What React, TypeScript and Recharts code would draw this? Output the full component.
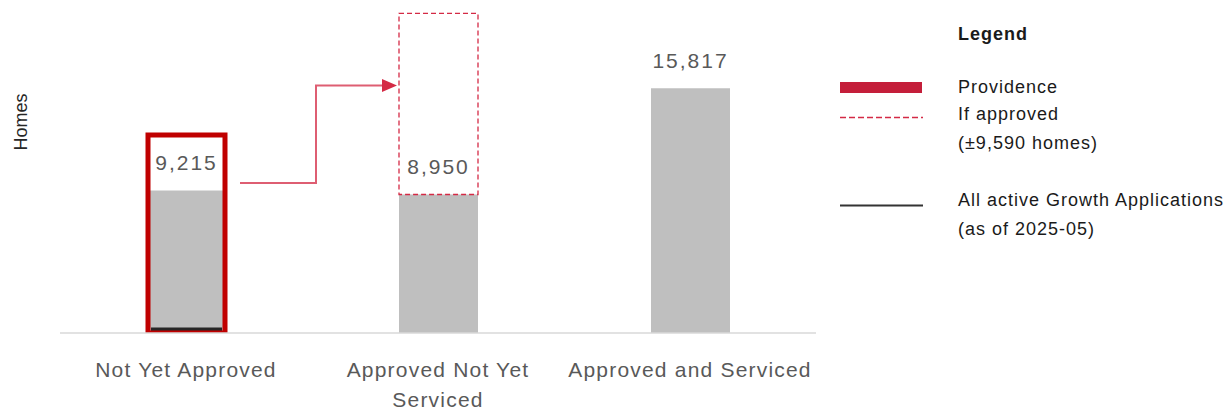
import React from "react";
import { ComposedChart, Bar, XAxis, YAxis, LabelList } from "recharts";

const CATEGORIES = ["Not Yet Approved", "Approved Not Yet Serviced", "Approved and Serviced"];
const ACTIVE = [9215, 8950, 15817];
const IF_APPROVED = [null, 11700, null];
const PROVIDENCE_BOX = [12800, null, null];
const GROWTH_LINE = [350, null, null];
// arrow: from the Providence box (at ~9,700) up to the "if approved" box (at ~16,000)
const ARROW_LEVELS = [9700, 16000];
const Y_MAX = 21000;

const LEGEND_ITEMS = [
  { kind: "bar", lines: ["Providence"] },
  { kind: "dash", lines: ["If approved", "(\u00b19,590 homes)"] },
  { kind: "line", lines: ["All active Growth Applications", "(as of 2025-05)"] },
];

const W = 1229;
const H = 412;
const M = { top: 8, right: 413, bottom: 0, left: 0 };
const Y_W = 60;
const X_H = 79;
const PLOT_L = M.left + Y_W;
const PLOT_R = W - M.right;
const PLOT_T = M.top;
const PLOT_B = H - M.bottom - X_H;
const BAND = (PLOT_R - PLOT_L) / CATEGORIES.length;

const FONT = '"Liberation Sans", Arial, sans-serif';
const GRAY_TXT = "#595959";

const data = CATEGORIES.map((name, i) => ({
  name,
  active: ACTIVE[i],
  ifApproved: IF_APPROVED[i],
  box: PROVIDENCE_BOX[i],
  growth: GROWTH_LINE[i],
}));

const yPix = (v: number) => PLOT_B - (v / Y_MAX) * (PLOT_B - PLOT_T);
const xCenter = (i: number) => PLOT_L + BAND * (i + 0.5);

function wrap(s: string, max = 21) {
  const out: string[] = [];
  let cur = "";
  s.split(" ").forEach((w) => {
    const next = cur ? cur + " " + w : w;
    if (next.length > max && cur) {
      out.push(cur);
      cur = w;
    } else cur = next;
  });
  if (cur) out.push(cur);
  return out;
}

const CategoryTick = (props: any) => {
  const { x, y, payload } = props;
  const lines = wrap(payload.value);
  return (
    <text
      x={x}
      y={y}
      textAnchor="middle"
      fill={GRAY_TXT}
      fontSize={21}
      fontFamily={FONT}
      style={{ letterSpacing: 1.2 }}
    >
      {lines.map((l, i) => (
        <tspan key={i} x={x} dy={i === 0 ? 36 : 30}>
          {l}
        </tspan>
      ))}
    </text>
  );
};

const HomesLabel = (props: any) => {
  const { viewBox } = props;
  const cx = viewBox.x + 21;
  const cy = viewBox.y + 114;
  return (
    <text
      x={cx}
      y={cy}
      transform={`rotate(-90, ${cx}, ${cy})`}
      textAnchor="middle"
      dominantBaseline="central"
      fill="#262626"
      fontSize={18}
      fontFamily={FONT}
    >
      Homes
    </text>
  );
};

export default function App() {
  const ax = xCenter(0) + 54;
  const elbow = PLOT_L + BAND + 4;
  const tip = xCenter(1) - 41;
  const y0 = yPix(ARROW_LEVELS[0]);
  const y1 = yPix(ARROW_LEVELS[1]);

  return (
    <div style={{ position: "absolute", left: 0, top: 0, width: W, height: H, background: "#fff" }}>
      <ComposedChart width={W} height={H} data={data} margin={M} barSize={79}>
        <XAxis
          dataKey="name"
          height={X_H}
          axisLine={{ stroke: "#d9d9d9", strokeWidth: 1.5 }}
          tickLine={false}
          tick={<CategoryTick />}
          interval={0}
        />
        <XAxis xAxisId="box" dataKey="name" hide />
        <XAxis xAxisId="growth" dataKey="name" hide />
        <YAxis
          width={Y_W}
          domain={[0, Y_MAX]}
          allowDataOverflow
          tick={false}
          axisLine={false}
          tickLine={false}
          label={<HomesLabel />}
        />
        <Bar dataKey="active" stackId="s" fill="#bfbfbf" isAnimationActive={false}>
          <LabelList
            dataKey="active"
            position="top"
            offset={20}
            fill={GRAY_TXT}
            fontSize={21}
            fontFamily={FONT}
            style={{ letterSpacing: 2 }}
            formatter={(v: any) => Number(v).toLocaleString("en-US")}
          />
        </Bar>
        <Bar
          dataKey="ifApproved"
          stackId="s"
          fill="none"
          stroke="#d42a45"
          strokeWidth={1.3}
          strokeDasharray="5 3"
          isAnimationActive={false}
        />
        <Bar
          xAxisId="growth"
          dataKey="growth"
          fill="#262626"
          barSize={71}
          isAnimationActive={false}
        />
        <Bar
          xAxisId="box"
          dataKey="box"
          fill="none"
          stroke="#c00000"
          strokeWidth={5}
          barSize={77}
          isAnimationActive={false}
        />
      </ComposedChart>

      <svg
        width={W}
        height={H}
        style={{ position: "absolute", left: 0, top: 0, pointerEvents: "none" }}
      >
        <polyline
          points={`${ax},${y0} ${elbow},${y0} ${elbow},${y1} ${tip - 12},${y1}`}
          fill="none"
          stroke="#de5e72"
          strokeWidth={2}
        />
        <polygon
          points={`${tip},${y1} ${tip - 15},${y1 - 6.5} ${tip - 15},${y1 + 6.5}`}
          fill="#d42a45"
        />
        {/* legend symbols */}
        <rect x={840} y={82} width={82} height={11} fill="#c41e3a" />
        <line x1={840} x2={923} y1={117.5} y2={117.5} stroke="#d42a45" strokeWidth={1.3} strokeDasharray="6 3" />
        <line x1={840} x2={923} y1={205.5} y2={205.5} stroke="#333" strokeWidth={2} />
      </svg>

      <div
        style={{
          position: "absolute",
          left: 958,
          top: 0,
          fontFamily: FONT,
          fontSize: 18,
          color: "#1a1a1a",
          letterSpacing: 1,
          whiteSpace: "nowrap",
        }}
      >
        <div style={{ position: "absolute", top: 24, fontWeight: "bold" }}>Legend</div>
        {LEGEND_ITEMS.map((item, i) => {
          const top = [78, 105, 191][i];
          return (
            <div key={item.kind} style={{ position: "absolute", top, lineHeight: "29px", marginTop: -5 }}>
              {item.lines.map((l) => (
                <div key={l}>{l}</div>
              ))}
            </div>
          );
        })}
      </div>
    </div>
  );
}
